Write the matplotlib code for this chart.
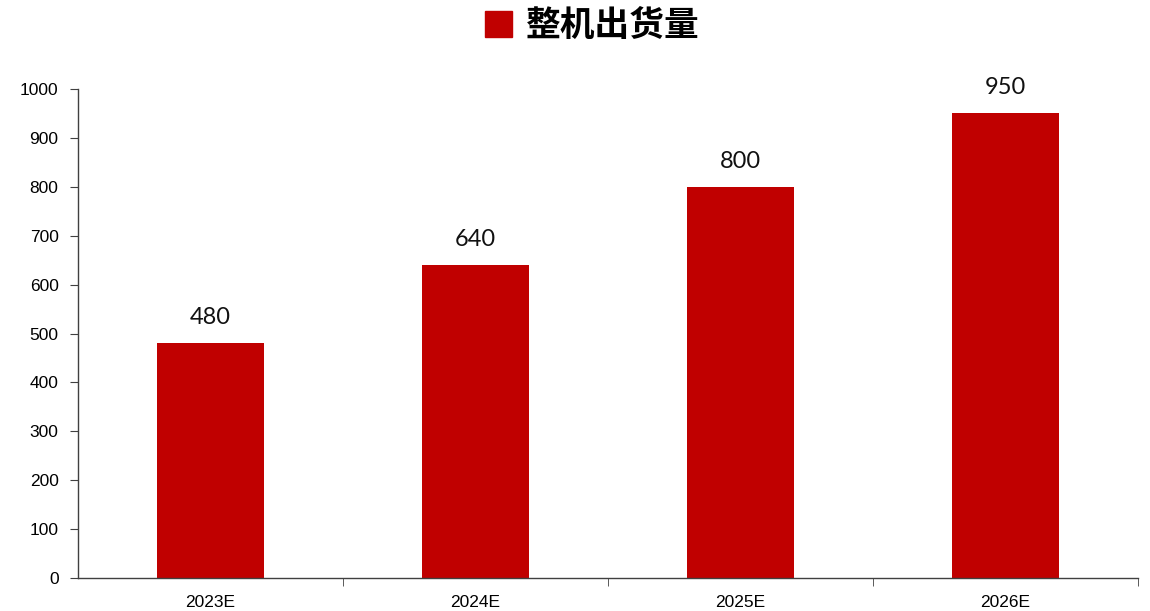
import matplotlib
matplotlib.use("Agg")
import matplotlib.pyplot as plt
from matplotlib.patches import Patch

categories = ["2023E", "2024E", "2025E", "2026E"]
values = [480, 640, 800, 950]
series_name = "整机出货量"
yticks = [0, 100, 200, 300, 400, 500, 600, 700, 800, 900, 1000]

bar_color = "#C00000"

fig = plt.figure(figsize=(11.5, 6.11), dpi=100)
ax = fig.add_axes([78/1150, 33/611, 1060/1150, 489/611])

x = list(range(len(categories)))
bars = ax.bar(x, values, width=0.404, color=bar_color, zorder=2)

for xi, v in zip(x, values):
    ax.annotate(f"{v}", (xi, v), xytext=(0, 11), textcoords="offset points",
                ha="center", va="bottom", fontsize=17, family="Lato", color="#111111")

ax.set_xlim(-0.5, len(categories) - 0.5)
ax.set_ylim(0, 1000)
ax.set_yticks(yticks)
ax.set_yticklabels([str(t) for t in yticks], fontsize=12.5, family="Liberation Sans")
ax.set_xticks(x)
ax.set_xticklabels(categories, fontsize=12.5, family="Liberation Sans")
ax.tick_params(axis="x", which="major", length=0, pad=12)
ax.set_xticks([i + 0.5 for i in range(len(categories))], minor=True)
ax.tick_params(axis="x", which="minor", length=6, direction="out", color="#404040")
ax.tick_params(axis="y", length=6, direction="out", color="#404040", pad=8)

for s in ["top", "right"]:
    ax.spines[s].set_visible(False)
for s in ["left", "bottom"]:
    ax.spines[s].set_color("#404040")
    ax.spines[s].set_linewidth(1.0)

fig.legend(handles=[Patch(facecolor=bar_color, edgecolor=bar_color)], labels=[series_name],
           loc="center", bbox_to_anchor=(0.515, 0.958), frameon=False,
           prop={"family": ["Noto Sans CJK SC", "DejaVu Sans"], "size": 25, "weight": "bold"},
           handlelength=0.8, handleheight=0.8, handletextpad=0.4)

fig.savefig("out.png", dpi=100)
